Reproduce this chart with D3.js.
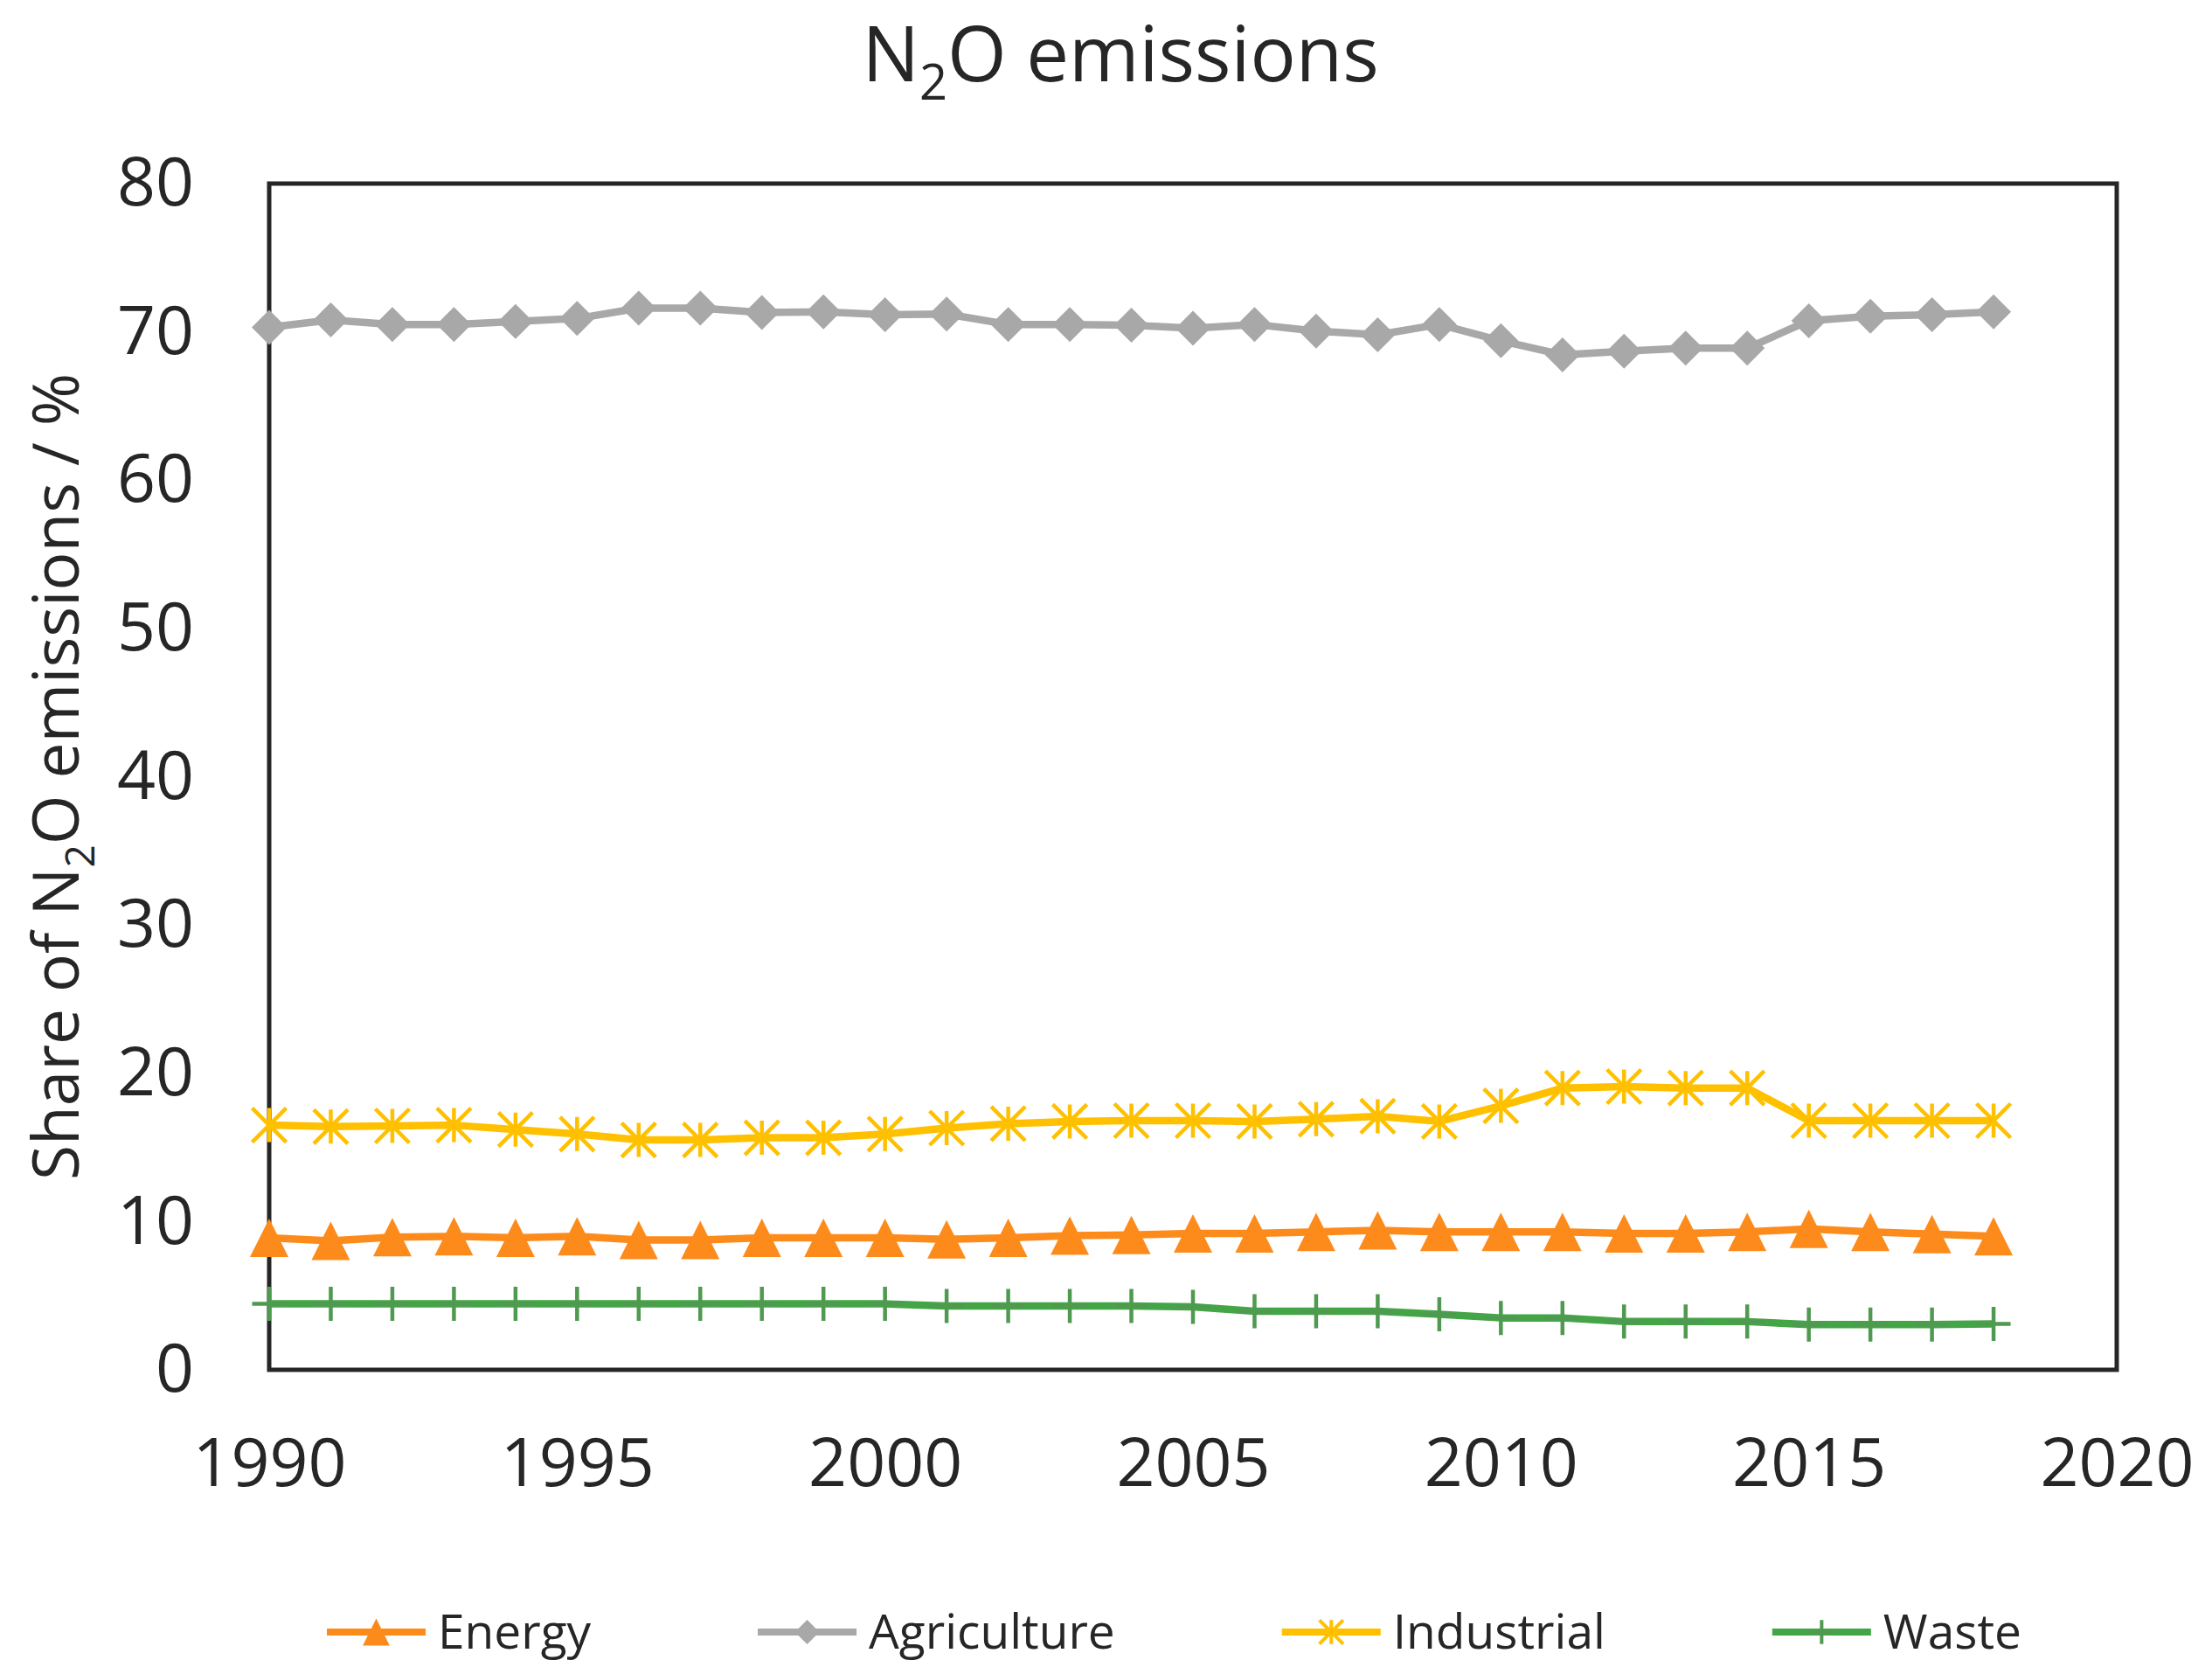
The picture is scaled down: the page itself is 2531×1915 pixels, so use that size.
<!DOCTYPE html>
<html>
<head>
<meta charset="utf-8">
<script src="https://cdn.jsdelivr.net/npm/d3@7"></script>
<style>
html,body{margin:0;padding:0;background:#fff;}
</style>
</head>
<body>
<div id="chart"></div>
<script>
var years=[1990,1991,1992,1993,1994,1995,1996,1997,1998,1999,2000,2001,2002,2003,2004,2005,2006,2007,2008,2009,2010,2011,2012,2013,2014,2015,2016,2017,2018];
var energy=[8.9,8.7,8.95,9.0,8.9,9.0,8.75,8.75,8.9,8.9,8.9,8.8,8.9,9.05,9.1,9.2,9.2,9.3,9.4,9.3,9.3,9.3,9.2,9.2,9.3,9.5,9.3,9.15,9.0];
var agriculture=[70.3,70.8,70.5,70.5,70.7,70.9,71.6,71.6,71.3,71.35,71.15,71.2,70.5,70.5,70.45,70.25,70.5,70.05,69.8,70.5,69.4,68.45,68.7,68.9,68.9,70.75,71.05,71.15,71.35];
var industrial=[16.5,16.4,16.45,16.5,16.2,15.9,15.5,15.5,15.65,15.65,15.9,16.3,16.6,16.75,16.8,16.8,16.75,16.9,17.1,16.75,17.8,19.0,19.1,19.0,19.0,16.8,16.8,16.8,16.8];
var waste=[4.45,4.45,4.45,4.45,4.45,4.45,4.45,4.45,4.45,4.45,4.45,4.3,4.3,4.3,4.3,4.25,3.95,3.95,3.95,3.75,3.5,3.5,3.25,3.25,3.25,3.05,3.05,3.05,3.1];

var seriesNames=['Energy','Agriculture','Industrial','Waste'];
var xTicks=[1990,1995,2000,2005,2010,2015,2020];
var yTicks=[0,10,20,30,40,50,60,70,80];

//---------------------------------svg-----------------------------------------
var iW=2531, iH=1915,
	iLeft=308, iRight=2422, iTop=210, iBottom=1567,
	sFont='"Open Sans", "Noto Sans", sans-serif',
	sText='#262626';

var oSvg=d3.select('#chart').append('svg')
	.attr('width',iW)
	.attr('height',iH)
	.style('font-family',sFont);

oSvg.append('rect').attr('width',iW).attr('height',iH).attr('fill','#fff');

var x=d3.scaleLinear().domain([1990,2020]).range([iLeft,iRight]);
var y=d3.scaleLinear().domain([0,80]).range([iBottom,iTop]);

//---------------------------------axes----------------------------------------
var oYAxis=oSvg.append('g')
	.attr('transform','translate('+iLeft+',0)')
	.call(d3.axisLeft(y).tickValues(yTicks).tickSize(0).tickPadding(86));
oYAxis.select('.domain').remove();
oYAxis.selectAll('text')
	.attr('font-size',77)
	.attr('font-family',sFont)
	.attr('fill',sText);

var oXAxis=oSvg.append('g')
	.attr('transform','translate(0,'+iBottom+')')
	.call(d3.axisBottom(x).tickValues(xTicks).tickFormat(d3.format('d')).tickSize(0).tickPadding(78));
oXAxis.select('.domain').remove();
oXAxis.selectAll('text')
	.attr('font-size',77)
	.attr('font-family',sFont)
	.attr('fill',sText);

// plot frame
oSvg.append('rect')
	.attr('x',x(1990))
	.attr('y',y(80))
	.attr('width',x(2020)-x(1990))
	.attr('height',y(0)-y(80))
	.attr('fill','none')
	.attr('stroke','#262626')
	.attr('stroke-width',5);

//---------------------------------markers-------------------------------------
function markerPath(type,s){
	if(type=='triangle') return 'M0,'+(-s)+'L'+s+','+s+'L'+(-s)+','+s+'Z';
	if(type=='diamond') return 'M0,'+(-s)+'L'+s+',0L0,'+s+'L'+(-s)+',0Z';
	if(type=='star') return 'M'+(-s)+','+(-s)+'L'+s+','+s+'M'+(-s)+','+s+'L'+s+','+(-s)+'M0,'+(-s)+'L0,'+s;
	return 'M'+(-s)+',0L'+s+',0M0,'+(-s)+'L0,'+s;	//plus
}

var aSeries=[
	{name:seriesNames[0], values:energy, color:'#FD8B1C', marker:'triangle', size:22, filled:true},
	{name:seriesNames[1], values:agriculture, color:'#A8A8A8', marker:'diamond', size:20, filled:true},
	{name:seriesNames[2], values:industrial, color:'#FFC000', marker:'star', size:19.5, filled:false},
	{name:seriesNames[3], values:waste, color:'#44A546', marker:'plus', size:19.5, filled:false}
];

var line=d3.line()
	.x(function(d,i){return x(years[i])})
	.y(function(d){return y(d)});

aSeries.forEach(function(s){
	var oG=oSvg.append('g');
	oG.append('path')
		.attr('d',line(s.values))
		.attr('fill','none')
		.attr('stroke',s.color)
		.attr('stroke-width',8.5)
		.attr('stroke-linejoin','round');
	oG.selectAll('path.mk').data(s.values).enter().append('path')
		.attr('class','mk')
		.attr('transform',function(d,i){return 'translate('+x(years[i])+','+y(d)+')'})
		.attr('d',markerPath(s.marker,s.size))
		.attr('fill',s.filled?s.color:'none')
		.attr('stroke',s.filled?'none':(s.marker=='plus'?'#4F9A50':s.color))
		.attr('stroke-width',4.5);
});

//---------------------------------title & labels-----------------------------
var oTitle=oSvg.append('text')
	.attr('x',1282)
	.attr('y',93)
	.attr('text-anchor','middle')
	.attr('font-size',87)
	.attr('fill',sText);
oTitle.append('tspan').text('N');
oTitle.append('tspan').attr('font-size',56).attr('dy',21).text('2');
oTitle.append('tspan').attr('dy',-21).text('O emissions');

var oYLabel=oSvg.append('text')
	.attr('transform','translate(90,'+((y(0)+y(80))/2)+') rotate(-90)')
	.attr('text-anchor','middle')
	.attr('font-size',73)
	.attr('fill',sText);
oYLabel.append('tspan').text('Share of N');
oYLabel.append('tspan').attr('font-size',46).attr('dy',18).text('2');
oYLabel.append('tspan').attr('dy',-18).text('O emissions / %');

//---------------------------------legend--------------------------------------
var iLegX=374, iLegY=1867, iLegLine=113, iLegGap=191;
aSeries.forEach(function(s){
	var oG=oSvg.append('g').attr('transform','translate('+iLegX+','+iLegY+')');
	oG.append('line')
		.attr('x1',0).attr('x2',iLegLine)
		.attr('y1',0).attr('y2',0)
		.attr('stroke',s.color)
		.attr('stroke-width',8);
	oG.append('path')
		.attr('transform','translate('+(iLegLine/2)+',0)')
		.attr('d',markerPath(s.marker,s.size*0.7))
		.attr('fill',s.filled?s.color:'none')
		.attr('stroke',s.filled?'none':(s.marker=='plus'?'#4F9A50':s.color))
		.attr('stroke-width',4);
	var oT=oG.append('text')
		.attr('x',iLegLine+14)
		.attr('y',0)
		.attr('dy','0.35em')
		.attr('font-size',55)
		.attr('fill',sText)
		.text(s.name);
	iLegX+=iLegLine+14+oT.node().getComputedTextLength()+iLegGap;
});
</script>
</body>
</html>
